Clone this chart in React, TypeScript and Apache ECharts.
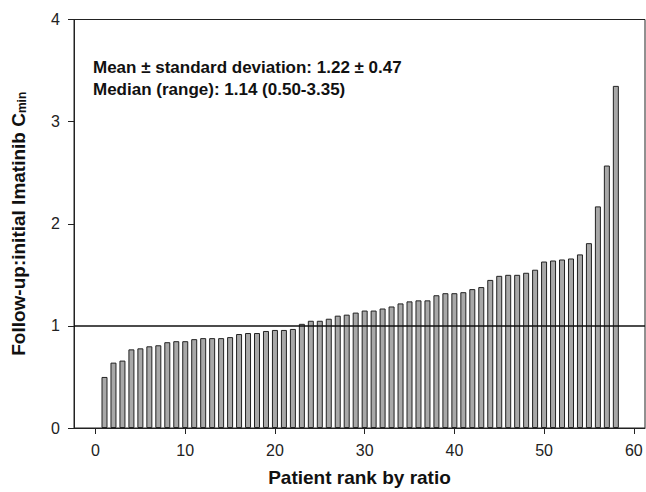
import React, { useEffect, useRef } from "react";
import * as echarts from "echarts";

const ranks: number[] = Array.from({ length: 58 }, (_, i) => i + 1);
const ratios: number[] = [
  0.5, 0.64, 0.66, 0.77, 0.78, 0.8, 0.81, 0.84, 0.85, 0.85,
  0.87, 0.88, 0.88, 0.88, 0.89, 0.92, 0.93, 0.93, 0.95, 0.96,
  0.96, 0.97, 1.02, 1.05, 1.05, 1.07, 1.1, 1.11, 1.13, 1.15,
  1.15, 1.17, 1.19, 1.22, 1.24, 1.25, 1.25, 1.3, 1.32, 1.32,
  1.33, 1.36, 1.38, 1.45, 1.49, 1.5, 1.5, 1.52, 1.55, 1.63,
  1.64, 1.65, 1.66, 1.7, 1.81, 2.17, 2.57, 3.35,
];
const xTicks: number[] = [0, 10, 20, 30, 40, 50, 60];
const referenceLevel = 1;
const statLines: string[] = [
  "Mean ± standard deviation: 1.22 ± 0.47",
  "Median (range): 1.14 (0.50-3.35)",
];

export default function App() {
  const ref = useRef<HTMLDivElement>(null);
  useEffect(() => {
    if (!ref.current) return;
    const chart = echarts.init(ref.current, undefined, { renderer: "svg" });
    const font = "Liberation Sans, Arial, sans-serif";
    chart.setOption({
      animation: false,
      backgroundColor: "#ffffff",
      grid: {
        left: 74,
        right: 1,
        top: 19.5,
        bottom: 62.5,
        show: true,
        borderColor: "#222",
        borderWidth: 1,
        backgroundColor: "transparent",
      },
      xAxis: {
        type: "value",
        min: -2.4,
        max: 61.25,
        name: "Patient rank by ratio",
        nameLocation: "middle",
        nameGap: 40,
        nameTextStyle: { fontFamily: font, fontSize: 19, fontWeight: "bold", color: "#111" },
        axisLine: { show: true, onZero: false, lineStyle: { color: "#222", width: 1 } },
        axisTick: { show: true, inside: false, length: 6, customValues: xTicks, lineStyle: { color: "#222" } },
        axisLabel: { customValues: xTicks, margin: 14, fontFamily: font, fontSize: 16, color: "#222" },
        splitLine: { show: false },
      },
      yAxis: {
        type: "value",
        min: 0,
        max: 4,
        interval: 1,
        name: "{main|Follow-up:initial Imatinib C}{sub|min}",
        nameLocation: "middle",
        nameGap: 46,
        nameRotate: 90,
        nameTextStyle: {
          fontFamily: font,
          fontSize: 19,
          fontWeight: "bold",
          color: "#111",
          rich: {
            main: { fontFamily: font, fontSize: 19, fontWeight: "bold", color: "#111", lineHeight: 22, verticalAlign: "bottom" },
            sub: { fontFamily: font, fontSize: 12, fontWeight: "bold", color: "#111", verticalAlign: "bottom", lineHeight: 4 },
          },
        },
        axisLine: { show: true, onZero: false, lineStyle: { color: "#222", width: 1 } },
        axisTick: { show: true, inside: false, length: 6, lineStyle: { color: "#222" } },
        axisLabel: { margin: 14, fontFamily: font, fontSize: 16, color: "#222" },
        splitLine: { show: false },
      },
      graphic: statLines.map((t, i) => ({
        type: "text",
        left: 93,
        top: 59 + i * 21.5,
        style: { text: t, font: `bold 17px ${font}`, fill: "#111" },
      })),
      series: [
        {
          type: "bar",
          data: ranks.map((r, i) => [r, ratios[i]]),
          barWidth: 6,
          itemStyle: { color: "#a8a8a8", borderColor: "#222", borderWidth: 1 },
          markLine: {
            silent: true,
            symbol: "none",
            label: { show: false },
            lineStyle: { color: "#111", width: 1.5, type: "solid" },
            data: [{ yAxis: referenceLevel }],
          },
        },
      ],
    });
    return () => chart.dispose();
  }, []);
  return (
    <div
      ref={ref}
      style={{ position: "fixed", left: 0, top: 0, width: 646, height: 492 }}
    />
  );
}
